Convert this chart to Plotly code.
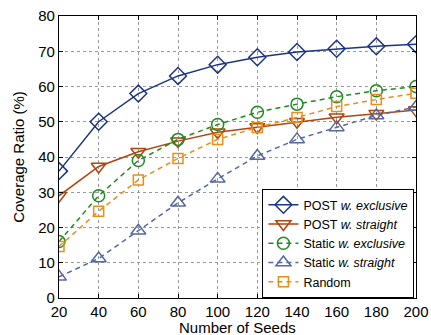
import plotly.graph_objects as go

seeds = [20, 40, 60, 80, 100, 120, 140, 160, 180, 200]
post_exclusive = [36, 50, 58, 63, 66.2, 68.3, 69.8, 70.7, 71.4, 72]
post_straight = [29, 37.3, 41.5, 44.5, 47, 48.5, 50, 51.3, 52.3, 53.3]
static_exclusive = [16, 29, 39, 45, 49.2, 52.7, 55, 57.1, 58.8, 60]
static_straight = [6, 11.2, 19.1, 27, 33.8, 40.3, 45, 48.4, 51.8, 54.2]
random_sel = [14.6, 24.6, 33.5, 39.6, 45, 48.4, 51.2, 54.3, 56.3, 58.1]

names = ["POST <i>w. exclusive</i>", "POST <i>w. straight</i>",
         "Static <i>w. exclusive</i>", "Static <i>w. straight</i>", "Random"]
series = [post_exclusive, post_straight, static_exclusive, static_straight, random_sel]
colors = ["#1c3582", "#b0450f", "#1e8c1e", "#5369a0", "#ec8c1a"]
symbols = ["diamond-open", "triangle-down-open", "circle-open", "triangle-up-open", "square-open"]
dashes = ["solid", "solid", "5px,4px", "5px,4px", "5px,4px"]
sizes = [13, 13, 12, 13, 10]

fig = go.Figure()
for n, s, c, sym, d, sz in zip(names, series, colors, symbols, dashes, sizes):
    fig.add_trace(go.Scatter(
        x=seeds, y=s, name=n, mode="lines+markers",
        line=dict(color=c, width=1.5, dash=d),
        marker=dict(symbol=sym, size=sz, color=c, line=dict(width=1.5, color=c)),
    ))

axis_common = dict(
    showline=True, linecolor="black", linewidth=1.2, mirror="allticks",
    ticks="inside", ticklen=4, tickcolor="black",
    showgrid=True, gridcolor="#999999", griddash="dot", gridwidth=1,
    zeroline=False, tickfont=dict(size=15, color="black"), automargin=False,
)
fig.update_xaxes(range=[20, 200], tickvals=seeds, **axis_common)
fig.update_yaxes(range=[0, 80], tickvals=list(range(0, 81, 10)), **axis_common,
                 title=dict(text="Coverage Ratio (%)", font=dict(size=15, color="black"), standoff=9))

fig.add_annotation(text="Number of Seeds", xref="paper", yref="paper",
                   x=0.5, y=-0.106, xanchor="center", yanchor="middle",
                   showarrow=False, font=dict(size=15, color="black"))

fig.update_layout(
    width=431, height=335,
    margin=dict(l=59, r=15, t=16, b=37),
    plot_bgcolor="white", paper_bgcolor="white",
    font=dict(family="Liberation Sans, Arial, sans-serif", color="black"),
    legend=dict(x=0.995, y=0.0, xanchor="right", yanchor="bottom",
                bgcolor="white", bordercolor="black", borderwidth=1.2,
                font=dict(size=12.5), tracegroupgap=0, itemwidth=30),
    showlegend=True,
)
fig.write_html("out.html")
